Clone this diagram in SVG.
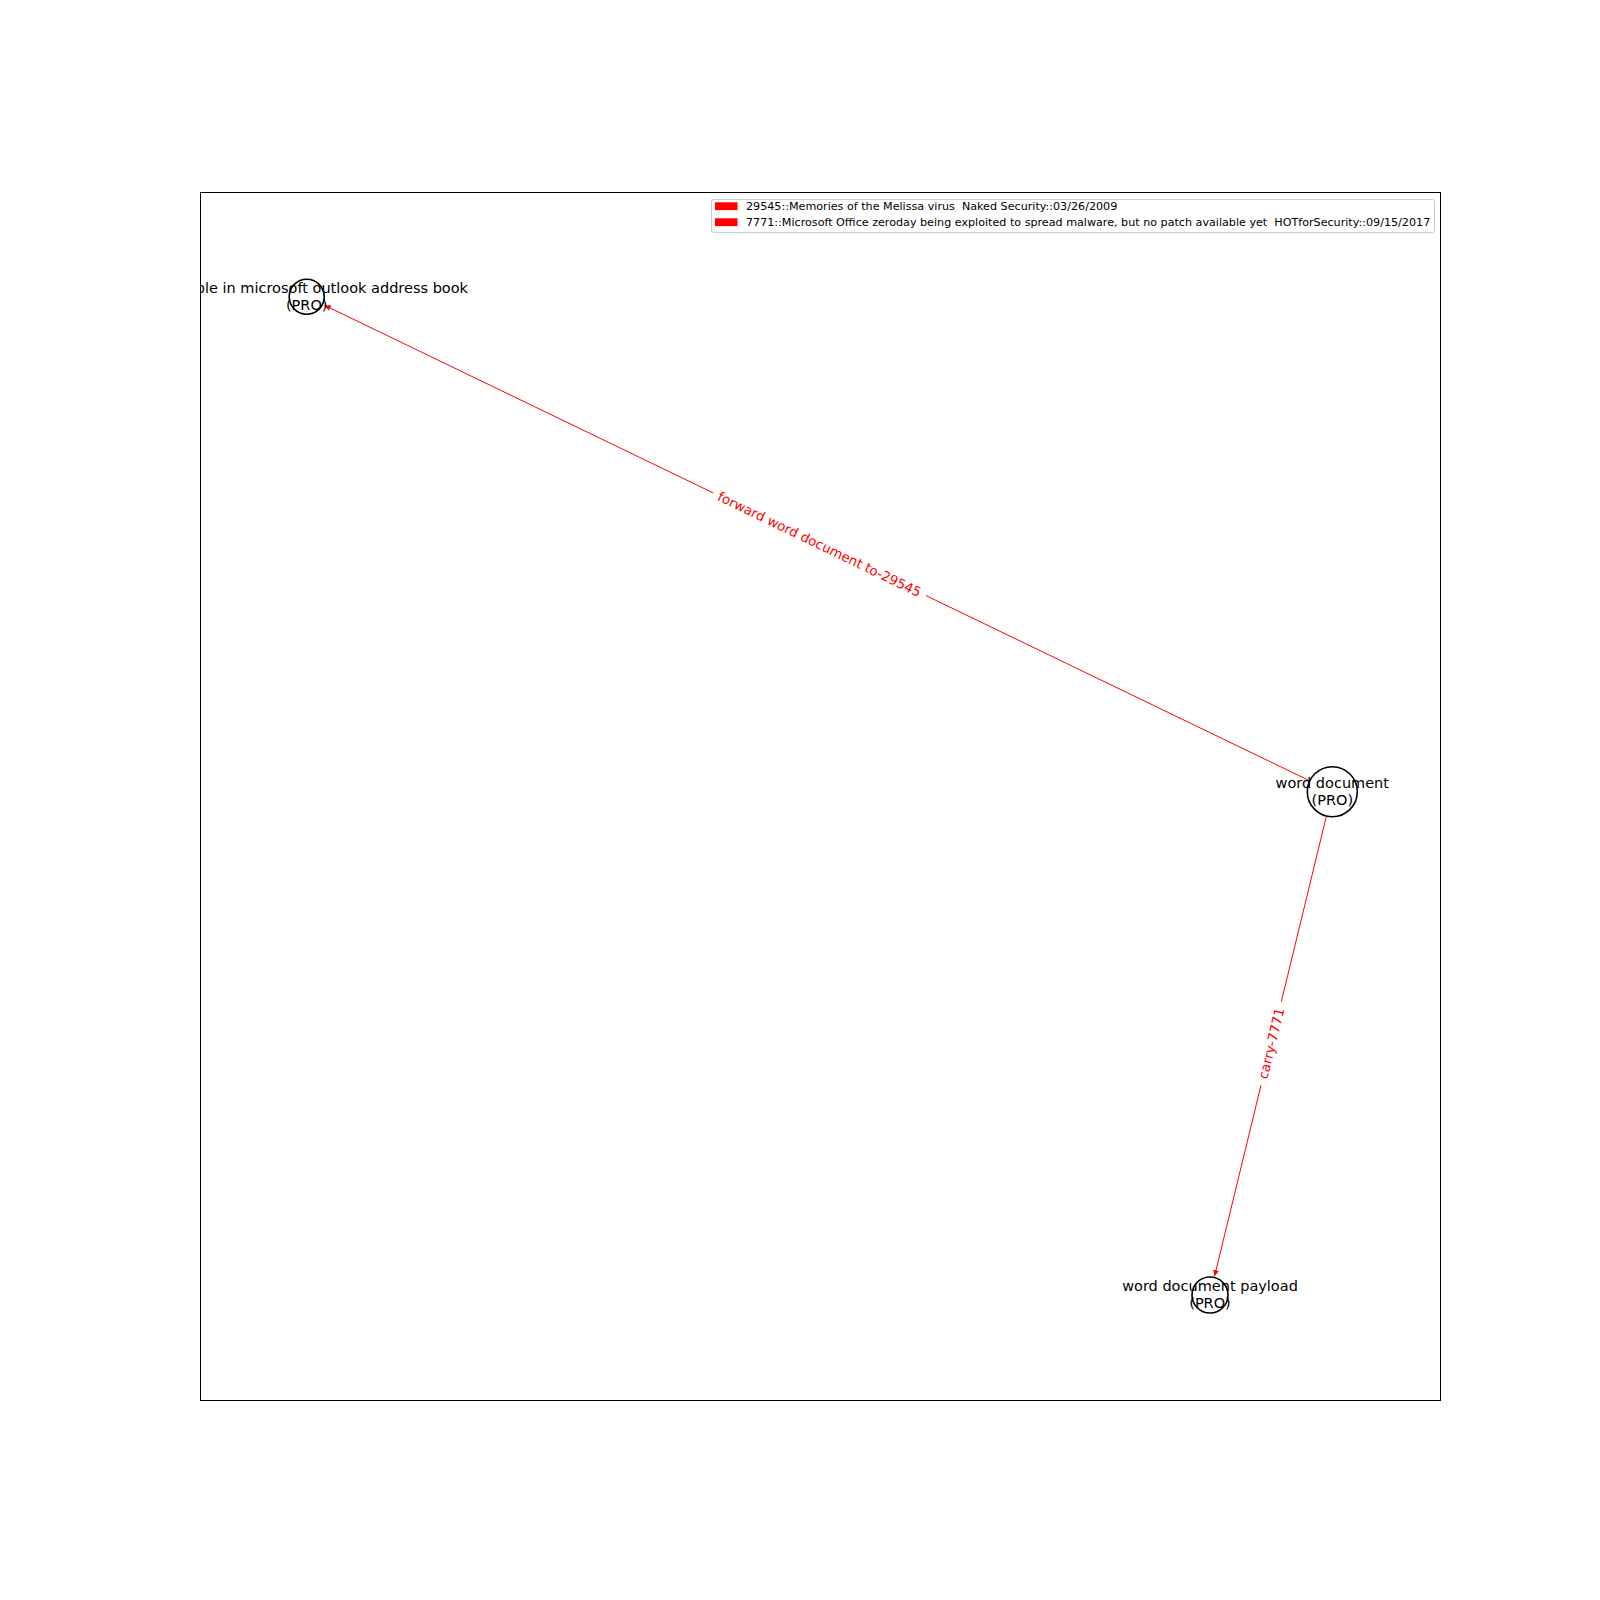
<svg xmlns="http://www.w3.org/2000/svg" width="1600" height="1600" viewBox="0 0 1600 1600">
  <defs>
    <style>
      .node circle { fill: #ffffff; stroke: #000000; stroke-width: 1.6; }
      .nlabel { font-family: "DejaVu Sans", "Liberation Sans", sans-serif; font-size: 14.5px; fill: #000000; text-anchor: middle; }
      .edge { stroke: #ff0000; stroke-width: 1; fill: none; marker-end: url(#arrow); }
      .elabel { font-family: "DejaVu Sans", "Liberation Sans", sans-serif; font-size: 13.3px; fill: #ff0000; text-anchor: middle; }
      .lbox { fill: #ffffff; }
      .legtext { font-family: "DejaVu Sans", "Liberation Sans", sans-serif; font-size: 11.15px; fill: #000000; white-space: pre; }
    </style>
    <marker id="arrow" markerUnits="userSpaceOnUse" markerWidth="6" markerHeight="6" refX="5.6" refY="2.8" orient="auto" viewBox="0 0 5.6 5.6">
      <path d="M0,0 L5.6,2.8 L0,5.6 z" fill="#ff0000"/>
    </marker>
    <clipPath id="axclip">
      <rect x="201" y="192" width="1240" height="1208"/>
    </clipPath>
  </defs>
  <rect x="0" y="0" width="1600" height="1600" fill="#ffffff"/>

  <g id="connectors">
    <line class="edge" x1="1308.9" y1="780.4" x2="324.7" y2="305.4"/>
    <line class="edge" x1="1326.2" y1="817.0" x2="1214.6" y2="1276.1"/>
    <g transform="translate(819.5,544.2) rotate(25.77)">
      <rect class="lbox" x="-118" y="-10" width="236" height="20" rx="4"/>
      <text class="elabel" x="0" y="4.8">forward word document to-29545</text>
    </g>
    <g transform="translate(1271.2,1043.4) rotate(-76.34)">
      <rect class="lbox" x="-43" y="-10" width="86" height="20" rx="4"/>
      <text class="elabel" x="0" y="4.8">carry-7771</text>
    </g>
  </g>

  <g id="node-address-book" class="node" clip-path="url(#axclip)">
    <circle cx="306.7" cy="296.7" r="17.5"/>
    <text class="nlabel" x="468" y="293" style="text-anchor:end">ple in microsoft outlook address book</text>
    <text class="nlabel" x="306.7" y="310">(PRO)</text>
  </g>

  <g id="node-word-document" class="node">
    <circle cx="1332.3" cy="791.7" r="25"/>
    <text class="nlabel" x="1332.3" y="788">word document</text>
    <text class="nlabel" x="1332.3" y="805">(PRO)</text>
  </g>

  <g id="node-word-document-payload" class="node">
    <circle cx="1210" cy="1295" r="18"/>
    <text class="nlabel" x="1210" y="1291">word document payload</text>
    <text class="nlabel" x="1210" y="1308">(PRO)</text>
  </g>

  <rect x="200.5" y="192.5" width="1240" height="1208" fill="none" stroke="#000000" stroke-width="1"/>

  <g id="legend">
    <rect x="711.5" y="199.5" width="723" height="33" rx="2.5" fill="#ffffff" fill-opacity="0.8" stroke="#cccccc" stroke-width="1"/>
    <rect x="715" y="202.3" width="22.5" height="7.8" fill="#ff0000"/>
    <text class="legtext" x="746" y="210.4" xml:space="preserve">29545::Memories of the Melissa virus  Naked Security::03/26/2009</text>
    <rect x="715" y="218.3" width="22.5" height="7.8" fill="#ff0000"/>
    <text class="legtext" x="746" y="226.4" xml:space="preserve">7771::Microsoft Office zeroday being exploited to spread malware, but no patch available yet  HOTforSecurity::09/15/2017</text>
  </g>
</svg>
